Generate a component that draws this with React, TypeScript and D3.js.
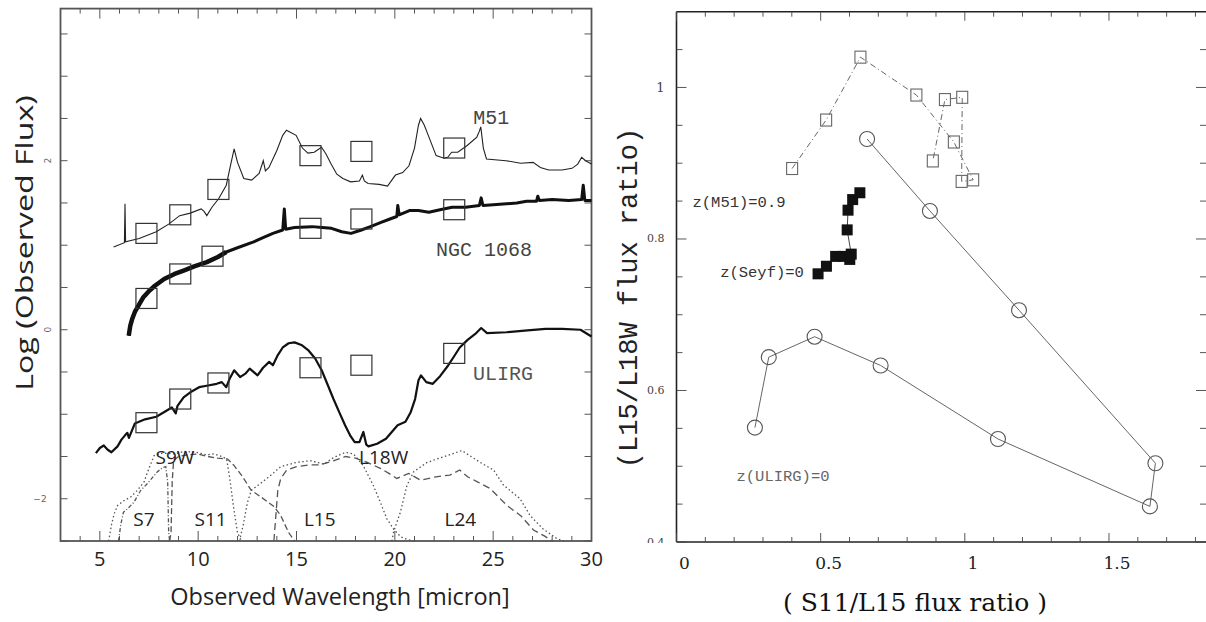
import React from 'react'
import * as d3 from 'd3'

type P = [number, number]

// ---------- left panel: observed spectra (wavelength [micron], log flux) ----------
const m51Spec: P[] = [
  [5.70, 0.98], [6.25, 1.03], [6.28, 1.49], [6.31, 1.04], [7.0, 1.08], [7.87, 1.16], [8.5, 1.25],
  [9.06, 1.35], [9.6, 1.38], [10.15, 1.43], [10.3, 1.40], [10.44, 1.35], [10.7, 1.45], [11.04, 1.55],
  [11.43, 1.71], [11.65, 1.95], [11.83, 2.14], [12.0, 1.98], [12.32, 1.79], [12.72, 1.77], [13.1, 1.85],
  [13.31, 2.0], [13.42, 1.88], [13.6, 1.92], [14.0, 2.12], [14.3, 2.30], [14.49, 2.36], [14.98, 2.30],
  [15.3, 2.15], [15.58, 2.09], [15.9, 2.10], [16.27, 2.16], [16.5, 2.08], [16.76, 1.96], [17.05, 1.84],
  [17.36, 1.79], [17.75, 1.75], [18.2, 1.76], [18.35, 1.83], [18.45, 1.76], [18.64, 1.73], [19.2, 1.72],
  [19.63, 1.70], [20.03, 1.83], [20.4, 1.86], [20.72, 1.94], [21.0, 2.15], [21.2, 2.42], [21.31, 2.50],
  [21.5, 2.42], [21.7, 2.30], [22.1, 2.06], [22.5, 2.03], [22.69, 2.04], [22.89, 2.10], [23.2, 2.10],
  [23.68, 2.18], [24.17, 2.28], [24.3, 2.35], [24.37, 2.40], [24.5, 2.15], [24.66, 2.02], [25.65, 2.0],
  [26.4, 1.97], [27.03, 1.98], [27.4, 1.92], [27.82, 1.89], [28.5, 1.89], [29.01, 1.91], [29.3, 1.96],
  [29.5, 2.04], [29.7, 2.0], [30.0, 1.96],
]
const ngcSpec: P[] = [
  [6.47, -0.07], [6.55, 0.05], [6.65, 0.13], [6.78, 0.21], [7.0, 0.30], [7.2, 0.38], [7.47, 0.45],
  [7.8, 0.52], [8.27, 0.60], [8.8, 0.66], [9.26, 0.70], [9.8, 0.75], [10.44, 0.80], [11.0, 0.86],
  [11.43, 0.92], [12.0, 0.97], [12.82, 1.04], [13.3, 1.09], [13.8, 1.14], [14.3, 1.18], [14.38, 1.43],
  [14.45, 1.19], [14.9, 1.21], [15.79, 1.22], [16.3, 1.21], [16.78, 1.20], [17.3, 1.16], [17.77, 1.14],
  [18.3, 1.18], [18.76, 1.22], [19.3, 1.27], [19.75, 1.31], [20.1, 1.34], [20.15, 1.47], [20.22, 1.36],
  [20.74, 1.41], [21.2, 1.41], [21.73, 1.39], [22.3, 1.42], [22.91, 1.45], [23.6, 1.45], [24.3, 1.47],
  [24.39, 1.56], [24.48, 1.47], [25.0, 1.48], [25.68, 1.49], [26.2, 1.50], [26.7, 1.52], [27.2, 1.52],
  [27.27, 1.58], [27.35, 1.53], [28.0, 1.54], [28.85, 1.53], [29.5, 1.54], [29.58, 1.71], [29.66, 1.53],
  [30.0, 1.53],
]
const ulirgSpec: P[] = [
  [4.8, -1.46], [5.0, -1.40], [5.2, -1.37], [5.4, -1.42], [5.59, -1.45], [5.9, -1.38], [6.1, -1.3],
  [6.28, -1.25], [6.4, -1.22], [6.48, -1.28], [6.78, -1.11], [7.3, -1.06], [7.87, -1.03], [8.3, -0.97],
  [8.66, -0.92], [8.86, -0.99], [8.95, -0.90], [9.26, -0.80], [9.6, -0.74], [10.05, -0.68], [10.5, -0.66],
  [10.94, -0.64], [11.2, -0.62], [11.43, -0.68], [11.6, -0.58], [11.83, -0.48], [12.13, -0.56],
  [12.4, -0.52], [12.62, -0.46], [13.02, -0.54], [13.3, -0.45], [13.61, -0.38], [13.8, -0.42],
  [14.05, -0.30], [14.3, -0.21], [14.6, -0.16], [14.9, -0.15], [15.25, -0.18], [15.59, -0.24],
  [15.95, -0.34], [16.28, -0.48], [16.6, -0.66], [16.88, -0.82], [17.2, -0.99], [17.47, -1.13],
  [17.75, -1.26], [17.96, -1.33], [18.2, -1.33], [18.4, -1.21], [18.55, -1.36], [18.66, -1.38],
  [19.1, -1.35], [19.55, -1.29], [20.14, -1.13], [20.54, -1.09], [20.8, -0.98], [21.03, -0.82],
  [21.2, -0.6], [21.33, -0.54], [21.6, -0.62], [21.93, -0.64], [22.3, -0.55], [22.72, -0.42],
  [23.0, -0.32], [23.3, -0.21], [23.7, -0.12], [24.09, -0.05], [24.39, 0.02], [24.69, -0.04],
  [25.68, -0.03], [26.6, -0.01], [27.66, 0.01], [28.5, 0.01], [29.44, 0.0], [30.0, -0.08],
]

// broad-band photometry (open squares)
const bandWave = [7.37, 9.09, 11.03, 15.71, 18.30, 23.02]
const ngcBandWave = [7.37, 9.09, 10.73, 15.71, 18.30, 23.02]
const m51Band = [1.14, 1.36, 1.66, 2.06, 2.11, 2.15]
const ngcBand = [0.37, 0.66, 0.87, 1.20, 1.31, 1.42]
const ulirgBand = [-1.10, -0.82, -0.63, -0.45, -0.42, -0.28]

// filter response curves, drawn in the plot's flux units
const s9wCurve: P[] = [
  [5.45, -2.5], [5.6, -2.3], [5.73, -2.18], [5.9, -2.08], [6.24, -2.02], [6.57, -1.98], [6.91, -1.90],
  [7.25, -1.80], [7.5, -1.64], [7.76, -1.49], [8.2, -1.46], [8.8, -1.47], [9.3, -1.44], [9.9, -1.45],
  [10.4, -1.48], [10.8, -1.47], [11.2, -1.50], [11.45, -1.53], [11.6, -1.75], [11.8, -2.1], [12.0, -2.4],
  [12.2, -2.5],
]
const s7Curve: P[] = [
  [5.95, -2.5], [6.07, -2.3], [6.2, -2.16], [6.4, -2.12], [6.74, -2.04], [7.08, -1.90], [7.42, -1.82],
  [7.93, -1.68], [8.2, -1.63], [8.35, -1.62], [8.45, -1.8], [8.5, -2.4], [8.55, -2.5],
]
const s11Curve: P[] = [
  [8.55, -2.5], [8.62, -2.4], [8.68, -1.8], [8.75, -1.55], [9.0, -1.5], [9.5, -1.48], [10.0, -1.47],
  [10.5, -1.5], [11.0, -1.52], [11.5, -1.53], [11.8, -1.6], [12.2, -1.72], [12.7, -1.9], [13.2, -1.98],
  [13.85, -2.09], [14.2, -2.2], [14.6, -2.4], [14.9, -2.5],
]
const l15Curve: P[] = [
  [12.1, -2.5], [12.3, -2.3], [12.5, -2.05], [12.7, -1.9], [13.5, -1.76], [14.2, -1.62], [15.0, -1.57],
  [15.7, -1.55], [16.4, -1.59], [16.9, -1.51], [17.5, -1.45], [17.9, -1.47], [18.4, -1.61], [18.9, -1.84],
  [19.26, -2.04], [19.6, -2.24], [19.94, -2.36], [20.3, -2.45], [20.6, -2.48], [21.0, -2.5],
]
const l18wCurve: P[] = [
  [13.85, -2.5], [13.95, -2.2], [14.05, -1.9], [14.2, -1.76], [14.5, -1.66], [15.0, -1.62], [15.6, -1.6],
  [16.2, -1.6], [16.9, -1.55], [17.5, -1.5], [18.0, -1.52], [18.6, -1.57], [19.26, -1.64], [19.7, -1.7],
  [20.1, -1.76], [20.7, -1.70], [21.3, -1.78], [22.1, -1.74], [22.8, -1.72], [23.3, -1.66], [23.7, -1.74],
  [24.2, -1.80], [24.85, -1.88], [25.7, -2.08], [26.4, -2.2], [27.05, -2.37], [27.6, -2.44], [28.0, -2.5],
]
const l24Curve: P[] = [
  [19.85, -2.5], [19.94, -2.39], [20.28, -2.16], [20.62, -1.84], [20.96, -1.68], [21.64, -1.57],
  [22.65, -1.49], [23.41, -1.43], [24.34, -1.57], [25.02, -1.66], [25.53, -1.84], [26.37, -2.0],
  [26.88, -2.2], [27.55, -2.36], [28.23, -2.47], [28.6, -2.5],
]

const waveTicks = [5, 10, 15, 20, 25, 30]
const fluxTickLabels = [2, 0, -2]

// ---------- right panel: colour-colour tracks ----------
const m51X = [0.401, 0.519, 0.638, 0.832, 0.962, 1.029, 0.989, 0.991, 0.931, 0.889]
const m51Y = [0.893, 0.957, 1.040, 0.990, 0.928, 0.878, 0.876, 0.987, 0.984, 0.903]
const seyfX = [0.491, 0.520, 0.552, 0.580, 0.601, 0.606, 0.592, 0.595, 0.611, 0.636]
const seyfY = [0.754, 0.764, 0.777, 0.777, 0.773, 0.780, 0.812, 0.838, 0.852, 0.861]
const ulirgX = [0.661, 0.879, 1.188, 1.661, 1.642, 1.115, 0.708, 0.479, 0.320, 0.272]
const ulirgY = [0.932, 0.837, 0.706, 0.504, 0.447, 0.536, 0.633, 0.671, 0.644, 0.551]
const ratioXTicks = [0, 0.5, 1, 1.5]
const ratioYTicks = [1, 0.8, 0.6, 0.4]

const W = 1206
const H = 622

function LeftPanel() {
  const x = d3.scaleLinear().domain([3, 30]).range([60.5, 591.5])
  const y = d3.scaleLinear().domain([-2.5, 3.8]).range([541, 8.6])
  const line = d3.line<P>().x(d => x(d[0])).y(d => y(d[1])).curve(d3.curveLinear)
  const frame = '#555'
  const minorX = d3.range(3, 31, 1)
  const yTicks = d3.range(-2.5, 3.8, 0.5)
  const sq = (lx: number[], ly: number[], key: string) =>
    lx.map((v, i) => (
      <rect key={key + i} x={x(v) - 10.5} y={y(ly[i]) - 10} width={21} height={20}
        fill="none" stroke="#333" strokeWidth={1.2} />
    ))
  const ngcNoisy = ngcSpec.filter(d => d[0] < 11.6)
  const filt = (d: P[], dash: string, k: string) => (
    <path key={k} d={line(d) || ''} fill="none" stroke="#555" strokeWidth={1.3} strokeDasharray={dash} />
  )
  const flab = (t: string, lx: number, ly: number) => (
    <text key={t} x={x(lx)} y={y(ly)} textAnchor="middle" dominantBaseline="central"
      fontFamily="'Open Sans', sans-serif" fontSize={19} fill="#222">{t}</text>
  )
  return (
    <g>
      {/* frame */}
      <rect x={x(3)} y={y(3.8)} width={x(30) - x(3)} height={y(-2.5) - y(3.8)} fill="none"
        stroke={frame} strokeWidth={1.8} />
      {minorX.map(v => {
        const len = v % 5 === 0 ? 10 : 5
        return (
          <g key={'tx' + v} stroke={frame} strokeWidth={1}>
            <line x1={x(v)} x2={x(v)} y1={y(-2.5)} y2={y(-2.5) - len} />
            <line x1={x(v)} x2={x(v)} y1={y(3.8)} y2={y(3.8) + len} />
          </g>
        )
      })}
      {yTicks.map(v => (
        <g key={'ty' + v} stroke={frame} strokeWidth={1}>
          <line x1={x(3)} x2={x(3) + 7} y1={y(v)} y2={y(v)} />
          <line x1={x(30)} x2={x(30) - 7} y1={y(v)} y2={y(v)} />
        </g>
      ))}
      {waveTicks.map(v => (
        <text key={'lx' + v} x={x(v)} y={558} textAnchor="middle" dominantBaseline="central"
          fontFamily="'Open Sans', sans-serif" fontSize={20} fill="#222">{v}</text>
      ))}
      {fluxTickLabels.map(v => (
        v < 0
          ? <text key={'ly' + v} x={40} y={y(v)} textAnchor="middle" dominantBaseline="central"
              fontFamily="'DejaVu Sans', sans-serif" fontSize={9} fill="#666">{'\u2212' + Math.abs(v)}</text>
          : <text key={'ly' + v} transform={`translate(48,${y(v)}) rotate(-90)`} textAnchor="middle"
              dominantBaseline="central" fontFamily="'DejaVu Sans', sans-serif" fontSize={9} fill="#666">{v}</text>
      ))}
      <text x={340} y={596} textAnchor="middle" dominantBaseline="central"
        fontFamily="'Open Sans', sans-serif" fontSize={23.5} fill="#222">Observed Wavelength [micron]</text>
      <text transform="translate(24,243) rotate(-90) scale(1.34,1)" textAnchor="middle" dominantBaseline="central"
        fontFamily="'Open Sans', sans-serif" fontSize={24} fill="#222">Log (Observed Flux)</text>

      {/* filter transmission curves */}
      {filt(s9wCurve, '1.5,2.5', 's9w')}
      {filt(s7Curve, '4,2,1,2', 's7')}
      {filt(s11Curve, '6,3', 's11')}
      {filt(l15Curve, '1.5,2.5', 'l15')}
      {filt(l18wCurve, '7,4', 'l18w')}
      {filt(l24Curve, '1.5,2.5', 'l24')}
      {flab('S9W', 8.82, -1.51)}
      {flab('L18W', 19.43, -1.51)}
      {flab('S7', 7.24, -2.24)}
      {flab('S11', 10.63, -2.24)}
      {flab('L15', 16.18, -2.24)}
      {flab('L24', 23.33, -2.24)}

      {/* spectra */}
      <path d={line(m51Spec) || ''} fill="none" stroke="#222" strokeWidth={1.1} />
      <path d={line(ngcSpec) || ''} fill="none" stroke="#111" strokeWidth={3} strokeLinejoin="round" />
      <path d={line(ngcNoisy) || ''} fill="none" stroke="#111" strokeWidth={4.5} strokeLinejoin="round" />
      <path d={line(ulirgSpec) || ''} fill="none" stroke="#111" strokeWidth={2.2} strokeLinejoin="round" />
      {sq(bandWave, m51Band, 'm')}
      {sq(ngcBandWave, ngcBand, 'n')}
      {sq(bandWave, ulirgBand, 'u')}

      <text x={x(24.9)} y={y(2.5)} textAnchor="middle" dominantBaseline="central"
        fontFamily="'Liberation Mono', monospace" fontSize={20} fill="#444">M51</text>
      <text x={x(24.53)} y={y(0.94)} textAnchor="middle" dominantBaseline="central"
        fontFamily="'Liberation Mono', monospace" fontSize={20} fill="#444">NGC 1068</text>
      <text x={x(25.5)} y={y(-0.53)} textAnchor="middle" dominantBaseline="central"
        fontFamily="'Liberation Mono', monospace" fontSize={20} fill="#555">ULIRG</text>
    </g>
  )
}

function RightPanel() {
  const x = d3.scaleLinear().domain([0, 1.84]).range([676.5, 1207])
  const y = d3.scaleLinear().domain([0.4, 1.1]).range([542, 11.7])
  const frame = '#222'
  const pts = (xs: number[], ys: number[]) => xs.map((v, i) => [x(v), y(ys[i])] as P)
  const line = d3.line()
  const m51 = pts(m51X, m51Y)
  const seyf = pts(seyfX, seyfY)
  const ulirg = pts(ulirgX, ulirgY)
  const minorX = d3.range(0, 1.85, 0.1)
  const minorY = d3.range(0.4, 1.1, 0.05)
  return (
    <g>
      <defs>
        <clipPath id="rclip"><rect x={600} y={0} width={100} height={543} /></clipPath>
      </defs>
      <line x1={x(0)} x2={x(0)} y1={y(1.1)} y2={y(0.4)} stroke={frame} strokeWidth={1.6} />
      <line x1={x(0)} x2={W} y1={y(1.1)} y2={y(1.1)} stroke={frame} strokeWidth={1.6} />
      <line x1={x(0)} x2={W} y1={y(0.4)} y2={y(0.4)} stroke={frame} strokeWidth={1.6} />
      {minorX.map((v, i) => {
        const len = i % 5 === 0 ? 9 : 5
        return (
          <g key={'rx' + i} stroke="#444" strokeWidth={0.9}>
            <line x1={x(v)} x2={x(v)} y1={y(0.4)} y2={y(0.4) - len} />
            <line x1={x(v)} x2={x(v)} y1={y(1.1)} y2={y(1.1) + len} />
          </g>
        )
      })}
      {minorY.map((v, i) => {
        const len = i % 4 === 0 ? 10 : 6
        return (
          <g key={'ry' + i} stroke="#444" strokeWidth={0.9}>
            <line x1={x(0)} x2={x(0) + len} y1={y(v)} y2={y(v)} />
            <line x1={W} x2={W - len} y1={y(v)} y2={y(v)} />
          </g>
        )
      })}
      {ratioXTicks.map(v => (
        <text key={'rlx' + v} x={x(v) + 8} y={563} textAnchor="middle" dominantBaseline="central"
          fontFamily="'DejaVu Serif', serif" fontSize={17} fill="#222">{v}</text>
      ))}
      <g clipPath="url(#rclip)">
        {ratioYTicks.map(v => (
          <text key={'rly' + v} x={x(0) - 12} y={y(v)} textAnchor="end" dominantBaseline="central"
            fontFamily="'DejaVu Serif', serif" fontSize={v === 1 ? 13 : 11} fill="#444">{v}</text>
        ))}
      </g>
      <text x={915} y={602} textAnchor="middle" dominantBaseline="central"
        fontFamily="'DejaVu Serif', serif" fontSize={25} fill="#111">( S11/L15 flux ratio )</text>
      <text transform="translate(630,298) rotate(-90)" textAnchor="middle" dominantBaseline="central"
        fontFamily="'Liberation Mono', monospace" fontSize={27} fill="#222">(L15/L18W flux ratio)</text>

      <path d={line(m51) || ''} fill="none" stroke="#666" strokeWidth={1} strokeDasharray="6,3,1,3" />
      {m51.map((p, i) => (
        <rect key={'m' + i} x={p[0] - 5.5} y={p[1] - 6} width={11} height={12} fill="none"
          stroke="#666" strokeWidth={1.1} />
      ))}
      <path d={line(seyf) || ''} fill="none" stroke="#444" strokeWidth={1} />
      {seyf.map((p, i) => (
        <rect key={'s' + i} x={p[0] - 5.5} y={p[1] - 5.5} width={11} height={11} fill="#111" />
      ))}
      <path d={line(ulirg) || ''} fill="none" stroke="#666" strokeWidth={1} />
      {ulirg.map((p, i) => (
        <circle key={'u' + i} cx={p[0]} cy={p[1]} r={7.5} fill="none" stroke="#555" strokeWidth={1.1} />
      ))}

      <text x={739} y={203} textAnchor="middle" dominantBaseline="central"
        fontFamily="'Liberation Mono', monospace" fontSize={15.5} fill="#333">z(M51)=0.9</text>
      <text x={762} y={273} textAnchor="middle" dominantBaseline="central"
        fontFamily="'Liberation Mono', monospace" fontSize={15.5} fill="#333">z(Seyf)=0</text>
      <text x={783} y={477} textAnchor="middle" dominantBaseline="central"
        fontFamily="'Liberation Mono', monospace" fontSize={15.5} fill="#666">z(ULIRG)=0</text>
    </g>
  )
}

export default function App() {
  return (
    <svg width={W} height={H} viewBox={`0 0 ${W} ${H}`}
      style={{ position: 'absolute', left: 0, top: 0, background: '#fff' }}>
      <rect width={W} height={H} fill="#fff" />
      <LeftPanel />
      <RightPanel />
    </svg>
  )
}
